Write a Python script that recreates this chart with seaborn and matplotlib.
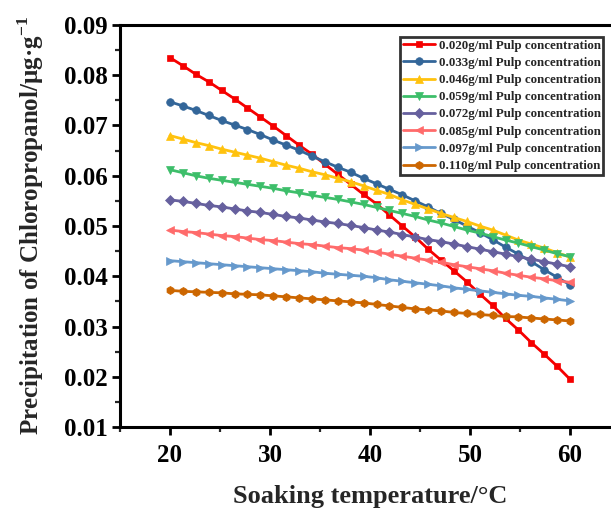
import numpy as np
import pandas as pd
import matplotlib
matplotlib.use("Agg")
import matplotlib.pyplot as plt
import seaborn as sns
from matplotlib.ticker import MultipleLocator, FormatStrFormatter

temperature = [20.00, 21.29, 22.58, 23.87, 25.16, 26.45, 27.74, 29.03, 30.32, 31.61,
               32.90, 34.19, 35.48, 36.77, 38.06, 39.35, 40.65, 41.94, 43.23, 44.52,
               45.81, 47.10, 48.39, 49.68, 50.97, 52.26, 53.55, 54.84, 56.13, 57.42,
               58.71, 60.00]

c020 = [0.0835, 0.0819, 0.0802, 0.0787, 0.0770, 0.0753, 0.0735, 0.0717, 0.0699, 0.0680,
        0.0661, 0.0643, 0.0623, 0.0603, 0.0583, 0.0563, 0.0544, 0.0522, 0.0500, 0.0478,
        0.0454, 0.0432, 0.0411, 0.0389, 0.0365, 0.0342, 0.0316, 0.0293, 0.0268, 0.0245,
        0.0221, 0.0195]
c033 = [0.0747, 0.0739, 0.0730, 0.0720, 0.0710, 0.0701, 0.0692, 0.0682, 0.0671, 0.0661,
        0.0651, 0.0639, 0.0628, 0.0617, 0.0607, 0.0595, 0.0584, 0.0573, 0.0562, 0.0550,
        0.0538, 0.0525, 0.0513, 0.0500, 0.0487, 0.0473, 0.0458, 0.0444, 0.0429, 0.0413,
        0.0398, 0.0383]
c046 = [0.0680, 0.0673, 0.0666, 0.0660, 0.0653, 0.0647, 0.0641, 0.0635, 0.0628, 0.0621,
        0.0615, 0.0608, 0.0602, 0.0595, 0.0588, 0.0580, 0.0571, 0.0563, 0.0552, 0.0543,
        0.0534, 0.0525, 0.0517, 0.0509, 0.0500, 0.0492, 0.0482, 0.0472, 0.0464, 0.0456,
        0.0447, 0.0438]
c059 = [0.0612, 0.0606, 0.0600, 0.0595, 0.0591, 0.0587, 0.0583, 0.0579, 0.0575, 0.0570,
        0.0566, 0.0561, 0.0557, 0.0553, 0.0548, 0.0543, 0.0537, 0.0531, 0.0525, 0.0519,
        0.0512, 0.0506, 0.0499, 0.0492, 0.0486, 0.0479, 0.0472, 0.0466, 0.0459, 0.0452,
        0.0445, 0.0439]
c072 = [0.0552, 0.0549, 0.0545, 0.0541, 0.0538, 0.0534, 0.0530, 0.0527, 0.0523, 0.0519,
        0.0516, 0.0512, 0.0508, 0.0505, 0.0501, 0.0497, 0.0492, 0.0488, 0.0483, 0.0478,
        0.0473, 0.0469, 0.0464, 0.0459, 0.0454, 0.0449, 0.0444, 0.0439, 0.0434, 0.0429,
        0.0424, 0.0419]
c085 = [0.0492, 0.0489, 0.0487, 0.0484, 0.0481, 0.0479, 0.0476, 0.0473, 0.0471, 0.0468,
        0.0465, 0.0463, 0.0460, 0.0457, 0.0455, 0.0452, 0.0448, 0.0444, 0.0440, 0.0436,
        0.0432, 0.0428, 0.0423, 0.0419, 0.0415, 0.0411, 0.0406, 0.0402, 0.0398, 0.0395,
        0.0391, 0.0388]
c097 = [0.0431, 0.0429, 0.0427, 0.0425, 0.0423, 0.0421, 0.0419, 0.0417, 0.0415, 0.0413,
        0.0411, 0.0409, 0.0406, 0.0404, 0.0402, 0.0400, 0.0397, 0.0393, 0.0390, 0.0387,
        0.0384, 0.0381, 0.0377, 0.0374, 0.0371, 0.0368, 0.0365, 0.0362, 0.0360, 0.0357,
        0.0354, 0.0351]
c110 = [0.0372, 0.0370, 0.0369, 0.0368, 0.0367, 0.0365, 0.0364, 0.0363, 0.0361, 0.0359,
        0.0357, 0.0355, 0.0353, 0.0351, 0.0349, 0.0347, 0.0344, 0.0341, 0.0338, 0.0335,
        0.0333, 0.0331, 0.0328, 0.0326, 0.0324, 0.0322, 0.0320, 0.0319, 0.0317, 0.0315,
        0.0313, 0.0311]

labels = ["0.020g/ml Pulp concentration", "0.033g/ml Pulp concentration",
          "0.046g/ml Pulp concentration", "0.059g/ml Pulp concentration",
          "0.072g/ml Pulp concentration", "0.085g/ml Pulp concentration",
          "0.097g/ml Pulp concentration", "0.110g/ml Pulp concentration"]
series = [c020, c033, c046, c059, c072, c085, c097, c110]
colors = ["#F50000", "#336699", "#FFC20E", "#3DBE6A", "#66609E", "#FF6B6B", "#6699CC", "#CC6600"]
markers = ["s", "o", "^", "v", "D", "<", ">", "h"]
msizes = [5.0, 5.5, 6.2, 6.2, 5.0, 6.2, 6.2, 5.8]

sns.set_theme(style="ticks")
plt.rcParams["font.family"] = ["Liberation Serif", "DejaVu Serif"]
plt.rcParams["font.weight"] = "bold"
plt.rcParams["mathtext.fontset"] = "custom"
plt.rcParams["mathtext.rm"] = "Liberation Serif:bold"
plt.rcParams["mathtext.bf"] = "Liberation Serif:bold"

fig = plt.figure(figsize=(6.11, 5.13), dpi=100)
ax = fig.add_axes([120 / 611, 86 / 513, 500 / 611, 402 / 513])

for lab, vals, col, mk, ms in zip(labels, series, colors, markers, msizes):
    df = pd.DataFrame({"T": temperature, "v": vals})
    sns.lineplot(data=df, x="T", y="v", ax=ax, color=col, marker=mk,
                 markersize=ms, markeredgecolor=col, markeredgewidth=0.5,
                 linewidth=2.0, label=lab)

ax.set_xlim(15, 65)
ax.set_ylim(0.01, 0.09)
ax.xaxis.set_major_locator(MultipleLocator(10))
ax.xaxis.set_minor_locator(MultipleLocator(5))
ax.yaxis.set_major_locator(MultipleLocator(0.01))
ax.yaxis.set_minor_locator(MultipleLocator(0.005))
ax.yaxis.set_major_formatter(FormatStrFormatter("%.2f"))

for s in ax.spines.values():
    s.set_linewidth(2.2)
    s.set_color("black")

ax.tick_params(axis="both", which="major", direction="out", length=6, width=2,
               labelsize=18, colors="black", top=False, right=False)
ax.tick_params(axis="y", which="major", pad=3)
ax.tick_params(axis="x", which="major", pad=6)
ax.tick_params(axis="both", which="minor", direction="out", length=3.5, width=1.6,
               top=False, right=False)
for t in ax.get_xticklabels() + ax.get_yticklabels():
    t.set_fontweight("bold")

ax.set_xlabel("Soaking temperature/°C", fontsize=19, fontweight="bold", labelpad=13)
ax.set_ylabel(r"Precipitation of Chloropropanol/μg·g$^{-1}$", fontsize=18,
              fontweight="bold", labelpad=13)

leg = ax.legend(loc="upper left", bbox_to_anchor=(400 / 611, 1 - 37 / 513),
                bbox_transform=fig.transFigure, borderaxespad=0,
                prop={"family": "Liberation Serif", "weight": "bold", "size": 9.3},
                handlelength=2.5, handletextpad=0.3, labelspacing=0.4,
                borderpad=0.2, fancybox=False, frameon=True)
leg.get_frame().set_edgecolor("black")
leg.get_frame().set_linewidth(2.0)

fig.savefig("out.png", dpi=100)
